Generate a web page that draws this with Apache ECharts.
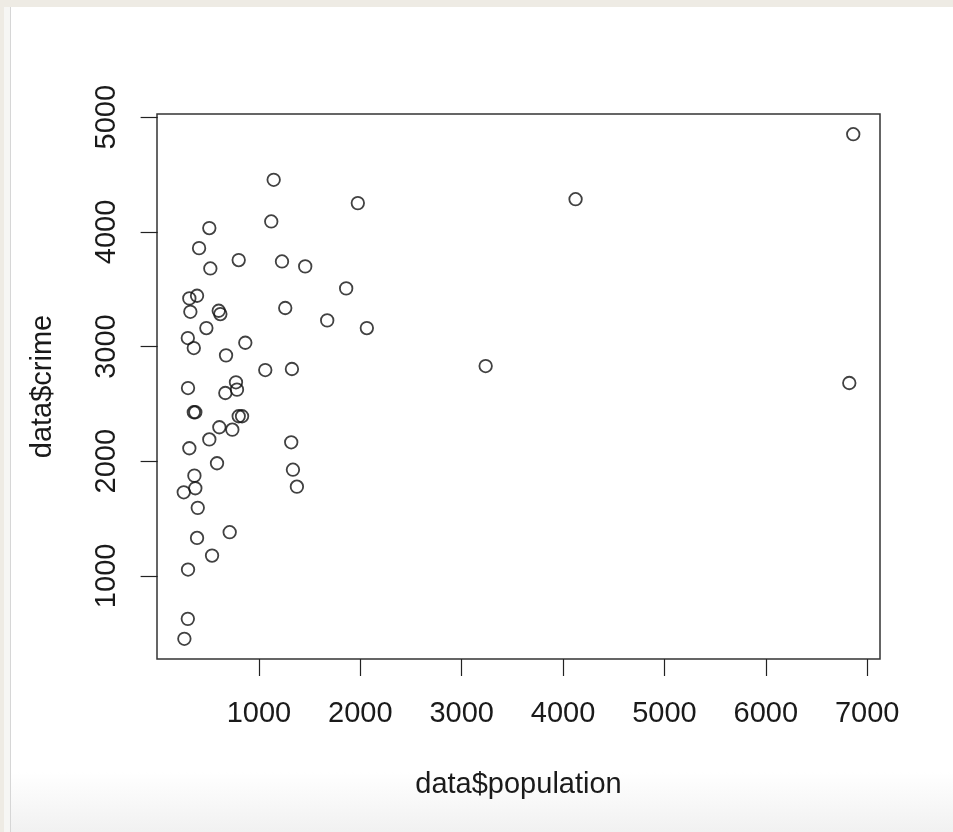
<!DOCTYPE html>
<html>
<head>
<meta charset="utf-8">
<script src="https://cdn.jsdelivr.net/npm/echarts@6/dist/echarts.min.js"></script>
<style>
  html, body { margin: 0; padding: 0; }
  body { width: 953px; height: 832px; background: #eeebe4; position: relative; overflow: hidden; }
  .panel {
    position: absolute; left: 4px; top: 7px; width: 949px; height: 825px;
    background: linear-gradient(to bottom, #ffffff 0, #ffffff 765px, #f1f1f1 825px);
  }
  .edge { position: absolute; left: 4px; top: 7px; width: 6px; height: 825px; background: #f6f6f4; }
  .edge-line { position: absolute; left: 10px; top: 7px; width: 1px; height: 825px; background: #d6d6d6; }
  #chart { position: absolute; left: 0; top: 0; width: 953px; height: 832px; }
</style>
</head>
<body>
<div class="panel"></div>
<div class="edge"></div>
<div class="edge-line"></div>
<div id="chart"></div>
<script>
// data$population vs data$crime
const population = [
  1145, 1975, 1121, 510, 409, 800, 1227, 1456, 520, 1860,
  389, 313, 323, 603, 619, 1259, 1673, 2064, 481, 298,
  357, 865, 675, 1062, 1325, 3236, 6823, 6862, 4123, 300,
  773, 783, 668, 357, 372, 800, 833, 609, 737, 510,
  1318, 313, 586, 1335, 363, 1374, 258, 372, 396, 711,
  389, 537, 300, 298, 264
]
const crime = [
  4454, 4251, 4091, 4033, 3858, 3754, 3742, 3699, 3681, 3507,
  3443, 3420, 3303, 3312, 3283, 3336, 3228, 3161, 3161, 3074,
  2987, 3033, 2923, 2795, 2804, 2830, 2682, 4852, 4285, 2638,
  2688, 2624, 2595, 2427, 2427, 2392, 2392, 2296, 2275, 2190,
  2165, 2113, 1982, 1926, 1874, 1778, 1729, 1764, 1593, 1381,
  1331, 1177, 1055, 625, 451
]
const xTicks = [1000, 2000, 3000, 4000, 5000, 6000, 7000]
const yTicks = [1000, 2000, 3000, 4000, 5000]

const points = population.map((p, i) => [p, crime[i]])

const chart = echarts.init(document.getElementById('chart'))
const textColor = '#1a1a1a'
const font = 'Liberation Sans, Arial, sans-serif'

function plainNumber(value) {
  return String(value)
}

chart.setOption({
  animation: false,
  grid: {
    left: 157,
    right: 73,
    top: 114,
    bottom: 173,
    show: true,
    borderColor: '#333',
    borderWidth: 1.5,
    backgroundColor: 'transparent',
    outerBoundsMode: 'none'
  },
  xAxis: {
    type: 'value',
    min: -6,
    max: 7126,
    name: 'data$population',
    nameLocation: 'middle',
    nameGap: 111,
    nameTextStyle: { color: textColor, fontSize: 29, fontFamily: font, lineHeight: 29 },
    axisLine: { show: false },
    axisTick: {
      show: true,
      length: 17,
      customValues: xTicks,
      lineStyle: { color: '#222', width: 1.2 }
    },
    axisLabel: {
      customValues: xTicks,
      formatter: plainNumber,
      margin: 40,
      color: textColor,
      fontSize: 29,
      fontFamily: font,
      lineHeight: 29
    },
    splitLine: { show: false }
  },
  yAxis: {
    type: 'value',
    min: 275,
    max: 5028,
    name: 'data$crime',
    nameLocation: 'middle',
    nameGap: 100,
    nameTextStyle: { color: textColor, fontSize: 29, fontFamily: font, lineHeight: 29 },
    axisLine: { show: false },
    axisTick: {
      show: true,
      length: 17,
      customValues: yTicks,
      lineStyle: { color: '#222', width: 1.2 }
    },
    axisLabel: {
      customValues: yTicks,
      formatter: plainNumber,
      rotate: 90,
      margin: 36,
      color: textColor,
      fontSize: 29,
      fontFamily: font,
      lineHeight: 29
    },
    splitLine: { show: false }
  },
  series: [
    {
      type: 'scatter',
      symbol: 'circle',
      symbolSize: 12.5,
      itemStyle: {
        color: 'transparent',
        borderColor: '#111',
        borderWidth: 1.8
      },
      data: points
    }
  ]
})
</script>
</body>
</html>
